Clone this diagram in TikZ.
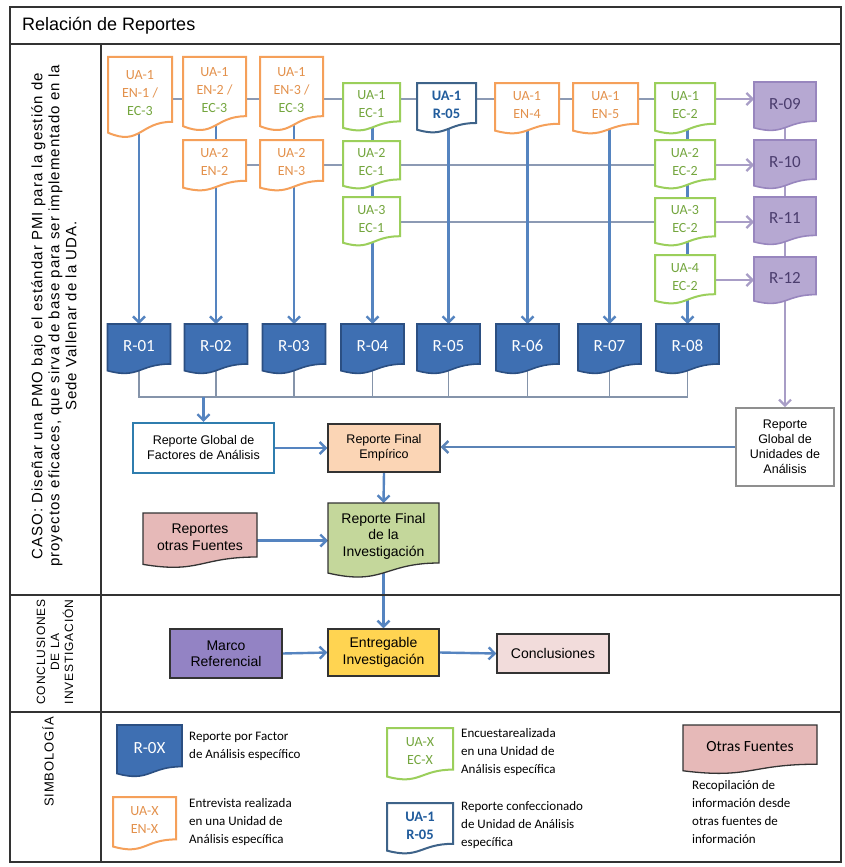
\documentclass[tikz,border=0pt]{standalone}
\usepackage{fontspec}
\setmainfont{Liberation Sans}
\newfontfamily\calib{Carlito}
\newfontfamily\spaced[LetterSpace=7]{Liberation Sans}
\usetikzlibrary{calc,arrows.meta}
\pgfdeclarelayer{paper}
\pgfdeclarelayer{bg}
\pgfsetlayers{paper,bg,main}

% palette
\definecolor{orB}{HTML}{F5A05A}
\definecolor{orT}{HTML}{E3914C}
\definecolor{grB}{HTML}{9BCF5B}
\definecolor{grT}{HTML}{74A63E}
\definecolor{bluD}{HTML}{3E6389}
\definecolor{bluT}{HTML}{215C9C}
\definecolor{rF}{HTML}{3E6FB2}
\definecolor{rB}{HTML}{2B4F82}
\definecolor{puF}{HTML}{B6A8D2}
\definecolor{puB}{HTML}{9886BE}
\definecolor{puT}{HTML}{4B3D6E}
\definecolor{arB}{HTML}{5584C0}
\definecolor{gyL}{HTML}{8C9AB4}
\definecolor{lvL}{HTML}{A89DC6}
\definecolor{busL}{HTML}{8594AA}
\definecolor{facB}{HTML}{2F7DAE}
\definecolor{empF}{HTML}{FBD5B5}
\definecolor{invF}{HTML}{C4D79B}
\definecolor{otrF}{HTML}{E6B9B8}
\definecolor{marF}{HTML}{9383C4}
\definecolor{entF}{HTML}{FFD451}
\definecolor{conF}{HTML}{F2DCDB}
\definecolor{unidB}{HTML}{8F8F8F}
\definecolor{frameC}{HTML}{333333}

\tikzset{
  frame/.style={draw=frameC, line width=1.4pt},
  orbox/.style={draw=orB, fill=white, line width=2pt},
  grbox/.style={draw=grB, fill=white, line width=2pt},
  bdbox/.style={draw=bluD, fill=white, line width=2pt},
  rbox/.style={draw=rB, fill=rF, line width=1.6pt},
  pubox/.style={draw=puB, fill=puF, line width=1.6pt},
  pkbox/.style={draw=frameC, fill=otrF, line width=1.3pt},
  gnbox/.style={draw=frameC, fill=invF, line width=1.3pt},
  doctxt/.style={font=\calib\fontsize{14}{18}\selectfont, align=center, inner sep=0pt},
  ortext/.style={doctxt, text=orT},
  grtext/.style={doctxt, text=grT},
  bdtext/.style={doctxt, text=bluT, font=\calib\bfseries\fontsize{14.5}{18}\selectfont},
  rtext/.style={doctxt, text=white, font=\calib\fontsize{17}{18}\selectfont},
  putext/.style={doctxt, text=puT, font=\calib\fontsize{17}{18}\selectfont},
  ftext/.style={align=center, font=\fontsize{14}{16.5}\selectfont, inner sep=0pt},
  stext/.style={align=center, font=\fontsize{12.5}{15}\selectfont},
  legtext/.style={align=left, font=\calib\fontsize{13}{18}\selectfont, inner sep=0pt},
  greyline/.style={draw=gyL, line width=2pt},
  busline/.style={draw=busL, line width=1.5pt},
  barrow/.style={draw=arB, line width=2.4pt, -{Straight Barb[length=6pt,width=12pt]}},
  lavarrow/.style={draw=lvL, line width=2.2pt, -{Straight Barb[length=6pt,width=12pt]}},
  lavline/.style={draw=lvL, line width=2.2pt},
}

% document symbol: rectangle with a wavy lower edge
% #1 name, #2 left, #3 top, #4 right, #5 bottom, #6 outline style, #7 text style, #8 text
\newcommand\docshape[8]{%
  \node[inner sep=0pt, outer sep=0pt, minimum width={#4-#2}, minimum height={#5-#3}]
    (#1) at ({(#2+#4)/2},{(#3+#5)/2}) {};
  \path[#6] (#1.north west) -- (#1.north east) -- ($(#1.north east)!0.8!(#1.south east)$)
    .. controls ($(#1.north)!0.8!(#1.south)$) and ($(#1.north)!1.107!(#1.south)$)
    .. ($(#1.north west)!0.934!(#1.south west)$) -- cycle;
  \node[#7] (#1-t) at ($(#1.north)!0.44!(#1.south)$) {#8};
}
% plain box
\newcommand\boxnode[7]{%
  \node[#6, inner sep=0pt, minimum width={#4-#2}, minimum height={#5-#3}]
    (#1) at ({(#2+#4)/2},{(#3+#5)/2}) {#7};
}

\begin{document}
\begin{tikzpicture}[x=1pt,y=-1pt]
\useasboundingbox (0,0) rectangle (844,867);
\begin{pgfonlayer}{paper}
  \fill[white] (0,0) rectangle (844,867);
\end{pgfonlayer}

% table frame
\draw[frame] (10,7) rectangle (841,862);
\draw[frame] (10,44) -- (841,44);
\draw[frame] (10,595) -- (841,595);
\draw[frame] (10,712) -- (841,712);
\draw[frame] (101,44) -- (101,862);

\node[anchor=base west, font=\fontsize{18}{22}\selectfont, inner sep=0pt] (title) at (22,31) {Relación de Reportes};

\node[rotate=90, align=center, font=\spaced\fontsize{15}{17}\selectfont] (caso) at (54,316)
  {CASO: Diseñar una PMO bajo el estándar PMI para la gestión de\\
   proyectos eficaces, que sirva de base para ser implementado en la\\
   Sede Vallenar de la UDA.};
\node[rotate=90, align=center, font=\spaced\fontsize{12}{14}\selectfont] (concl) at (55,652)
  {CONCLUSIONES\\DE LA\\INVESTIGACIÓN};
\node[rotate=90, font=\spaced\fontsize{13}{15}\selectfont] (simb) at (48,762) {SIMBOLOGÍA};

% interviews, surveys and unit reports
\docshape{en1}{108}{57}{172}{138}{orbox}{ortext}{UA-1\\EN-1 /\\\color{grT}EC-3}
\docshape{en2a}{183}{57}{246}{131}{orbox}{ortext}{UA-1\\EN-2 /\\\color{grT}EC-3}
\docshape{en3a}{260}{57}{323}{131}{orbox}{ortext}{UA-1\\EN-3 /\\\color{grT}EC-3}
\docshape{en2b}{183}{140}{246}{191}{orbox}{ortext}{UA-2\\EN-2}
\docshape{en3b}{260}{140}{323}{191}{orbox}{ortext}{UA-2\\EN-3}
\docshape{ec1a}{343}{83}{400}{131}{grbox}{grtext}{UA-1\\EC-1}
\docshape{ec1b}{343}{141}{400}{189}{grbox}{grtext}{UA-2\\EC-1}
\docshape{ec1c}{343}{197}{400}{246}{grbox}{grtext}{UA-3\\EC-1}
\docshape{u05}{417}{83}{476}{133}{bdbox}{bdtext}{UA-1\\R-05}
\docshape{en4}{495}{83}{559}{134}{orbox}{ortext}{UA-1\\EN-4}
\docshape{en5}{573}{83}{638}{134}{orbox}{ortext}{UA-1\\EN-5}
\docshape{ec2a}{655}{83}{715}{134}{grbox}{grtext}{UA-1\\EC-2}
\docshape{ec2b}{655}{140}{715}{189}{grbox}{grtext}{UA-2\\EC-2}
\docshape{ec2c}{655}{198}{715}{246}{grbox}{grtext}{UA-3\\EC-2}
\docshape{ec2d}{655}{255}{715}{304}{grbox}{grtext}{UA-4\\EC-2}

% unit reports
\docshape{r09}{754}{82}{816}{131}{pubox}{putext}{R-09}
\docshape{r10}{754}{140}{816}{189}{pubox}{putext}{R-10}
\docshape{r11}{754}{197}{816}{245}{pubox}{putext}{R-11}
\docshape{r12}{754}{257}{816}{304}{pubox}{putext}{R-12}

% factor reports
\docshape{r01}{107.5}{324}{170.5}{374}{rbox}{rtext}{R-01}
\docshape{r02}{184.5}{324}{247.5}{374}{rbox}{rtext}{R-02}
\docshape{r03}{262.5}{324}{325.5}{374}{rbox}{rtext}{R-03}
\docshape{r04}{341}{324}{404}{374}{rbox}{rtext}{R-04}
\docshape{r05}{417}{324}{480}{374}{rbox}{rtext}{R-05}
\docshape{r06}{496}{324}{559}{374}{rbox}{rtext}{R-06}
\docshape{r07}{578}{324}{641}{374}{rbox}{rtext}{R-07}
\docshape{r08}{656}{324}{719}{374}{rbox}{rtext}{R-08}

% consolidated reports
\boxnode{fac}{133}{423}{274}{473}{draw=facB, fill=white, line width=2.2pt, stext}{Reporte Global de\\Factores de Análisis}
\boxnode{emp}{328}{424}{440}{472}{draw=frameC, fill=empF, line width=1.3pt, stext}{Reporte Final\\Empírico}
\boxnode{unid}{736}{408}{834}{486}{draw=unidB, fill=white, line width=1.8pt, stext}{Reporte\\Global de\\Unidades de\\Análisis}
\docshape{inv}{328}{503}{439}{578}{gnbox}{ftext}{Reporte Final\\de la\\Investigación}
\docshape{otr}{143}{513}{257}{568}{pkbox}{ftext}{Reportes\\otras Fuentes}

% conclusions
\boxnode{mar}{170}{629}{282}{678}{draw=frameC, fill=marF, line width=1.3pt, ftext}{Marco\\Referencial}
\boxnode{ent}{328}{629}{439}{676}{draw=frameC, fill=entF, line width=1.3pt, ftext}{Entregable\\Investigación}
\boxnode{con}{497}{634}{609}{673}{draw=frameC, fill=conF, line width=1.3pt, ftext}{Conclusiones}

% legend
\docshape{lr}{117}{725}{182}{777}{rbox}{rtext}{R-0X}
\docshape{len}{113}{797}{176}{850}{orbox}{ortext}{UA-X\\EN-X}
\docshape{lec}{387}{728}{453}{780}{grbox}{grtext}{UA-X\\EC-X}
\docshape{lu}{387}{803}{453}{854}{bdbox}{bdtext}{UA-1\\R-05}
\docshape{lof}{683}{725}{817}{774}{pkbox}{doctxt, font=\calib\fontsize{15.5}{18}\selectfont}{Otras Fuentes}
\node[legtext, anchor=west] (lrt) at (189,746) {Reporte por Factor\\de Análisis específico};
\node[legtext, anchor=west] (lent) at (189,822) {Entrevista realizada\\en una Unidad de\\Análisis específica};
\node[legtext, anchor=west] (lect) at (461,752) {Encuestarealizada\\en una Unidad de\\Análisis específica};
\node[legtext, anchor=west] (lut) at (461,825) {Reporte confeccionado\\de Unidad de Análisis\\específica};
\node[legtext, anchor=north west] (loft) at (692,780) {Recopilación de\\información desde\\otras fuentes de\\información};

% connectors, drawn beneath the shapes
\coordinate (row1) at (0,99);
\coordinate (row2) at (0,165);
\coordinate (row3) at (0,222);
\coordinate (row4) at (0,280);
\coordinate (bus) at (0,397);
\begin{pgfonlayer}{bg}
  \draw[greyline] (en1.center |- row1) -- (ec2a.center |- row1);
  \draw[greyline] (en2b.center |- row2) -- (ec2b.center |- row2);
  \draw[greyline] (ec1c.center |- row3) -- (ec2c.center |- row3);
  \draw[lavarrow] (ec2a.east |- row1) -- (r09.west |- row1);
  \draw[lavarrow] (ec2b.east |- row2) -- (r10.west |- row2);
  \draw[lavarrow] (ec2c.east |- row3) -- (r11.west |- row3);
  \draw[lavarrow] (ec2d.east |- row4) -- (r12.west |- row4);
  \draw[lavline] (r09.center) -- (r12.center);
  \draw[lavarrow] (r12.center) -- (unid.north);

  \draw[barrow] (en1.center -| r01.north) -- (r01.north);
  \draw[barrow] (en2a.center -| r02.north) -- (r02.north);
  \draw[barrow] (en3a.center -| r03.north) -- (r03.north);
  \draw[barrow] (ec1a.center -| r04.north) -- (r04.north);
  \draw[barrow] (u05.center -| r05.north) -- (r05.north);
  \draw[barrow] (en4.center -| r06.north) -- (r06.north);
  \draw[barrow] (en5.center -| r07.north) -- (r07.north);
  \draw[barrow] (ec2a.center -| r08.north) -- (r08.north);

  \draw[busline] (r01.center) -- (r01.center |- bus) -- (r08.center |- bus) -- (r08.center);
  \foreach \r in {r02,r03,r04,r05,r06,r07}
    \draw[busline] (\r.center) -- (\r.center |- bus);
  \draw[barrow] (fac.north |- bus) -- (fac.north);

  \draw[barrow] (fac.east) -- (emp.west);
  \draw[barrow, draw=arB!85!gray] (unid.west) -- (unid.west -| emp.east);
  \draw[barrow] (emp.south) -- (inv.north);
  \draw[barrow] (otr.east) -- (otr.east -| inv.west);
  \draw[barrow] (inv.center) -- (ent.north);
  \draw[barrow] (mar.east) -- (ent.west);
  \draw[barrow] (ent.east) -- (con.west);
\end{pgfonlayer}
\end{tikzpicture}
\end{document}
